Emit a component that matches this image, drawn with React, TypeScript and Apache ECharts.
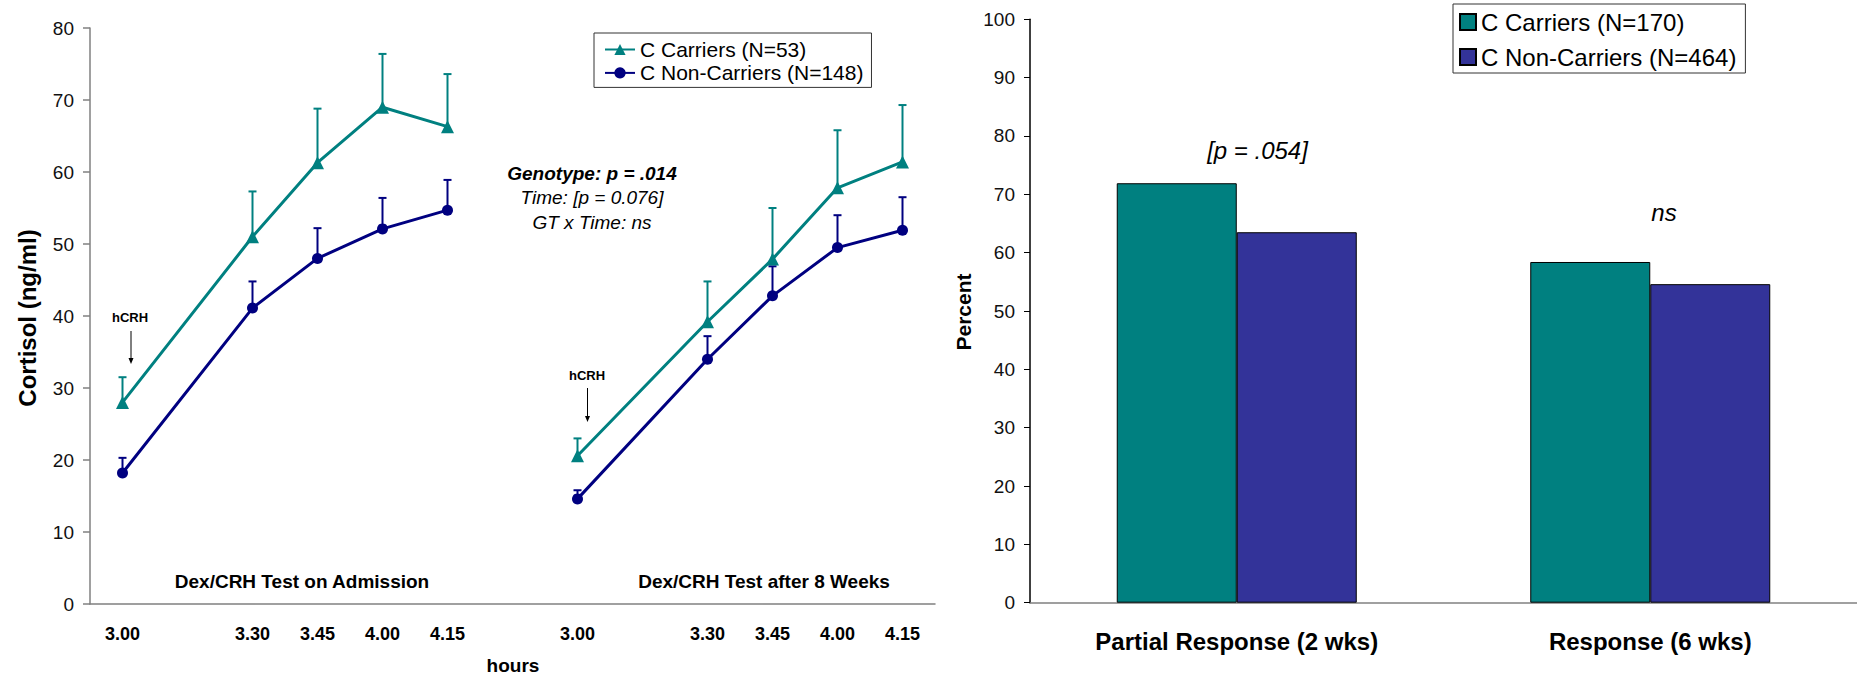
import React, { useEffect, useRef } from "react";
import * as echarts from "echarts";

// ---- Left panel: cortisol during Dex/CRH tests ----
const slotLabels = ["3.00", "", "3.30", "3.45", "4.00", "4.15", "", "3.00", "", "3.30", "3.45", "4.00", "4.15"];
const admissionSlots = [0, 2, 3, 4, 5];
const week8Slots = [7, 9, 10, 11, 12];

const carriersAdmission = [28.0, 51.0, 61.3, 69.0, 66.3];
const carriersAdmissionUpper = [31.5, 57.3, 68.8, 76.4, 73.6];
const nonCarriersAdmission = [18.2, 41.1, 48.0, 52.1, 54.7];
const nonCarriersAdmissionUpper = [20.3, 44.8, 52.2, 56.4, 58.9];

const carriersWeek8 = [20.6, 39.2, 47.9, 57.8, 61.4];
const carriersWeek8Upper = [23.0, 44.8, 55.0, 65.8, 69.3];
const nonCarriersWeek8 = [14.6, 34.0, 42.8, 49.5, 51.9];
const nonCarriersWeek8Upper = [15.8, 37.2, 46.9, 54.0, 56.5];

const lineNames = ["C Carriers (N=53)", "C Non-Carriers (N=148)"];

// ---- Right panel: response rates ----
const responseCategories = ["Partial Response (2 wks)", "Response (6 wks)"];
const carriersPercent = [71.9, 58.4];
const nonCarriersPercent = [63.5, 54.6];
const barNames = ["C Carriers (N=170)", "C Non-Carriers (N=464)"];

const TEAL = "#008080";
const NAVY = "#000080";
const BAR_BLUE = "#333399";
const FONT = "'Liberation Sans', Arial, sans-serif";

const pairs = (slots: number[], vals: number[]) => slots.map((s, i) => [s, vals[i]]);
const triples = (slots: number[], vals: number[], ups: number[]) => slots.map((s, i) => [s, vals[i], ups[i]]);

const makeErr = (color: string) => (params: any, api: any) => {
  const x = api.value(0);
  const p0 = api.coord([x, api.value(1)]);
  const p1 = api.coord([x, api.value(2)]);
  return {
    type: "group",
    children: [
      { type: "line", shape: { x1: p0[0], y1: p0[1], x2: p1[0], y2: p1[1] }, style: { stroke: color, lineWidth: 2 } },
      { type: "line", shape: { x1: p1[0] - 4, y1: p1[1], x2: p1[0] + 4, y2: p1[1] }, style: { stroke: color, lineWidth: 2 } },
    ],
  };
};

const lineSeries = (name: string, data: number[][], color: string, symbol: string, size: number) => ({
  type: "line",
  name,
  xAxisIndex: 0,
  yAxisIndex: 0,
  data,
  symbol,
  symbolSize: size,
  lineStyle: { color, width: 3 },
  itemStyle: { color },
  z: 3,
});

const errSeries = (name: string, data: number[][], color: string) => ({
  type: "custom",
  name,
  xAxisIndex: 0,
  yAxisIndex: 0,
  data,
  encode: { x: 0, y: [1, 2] },
  renderItem: makeErr(color),
  z: 2,
});

const arrow = (x: number, y1: number, y2: number) => [
  { type: "line", shape: { x1: x, y1, x2: x, y2: y2 - 4 }, style: { stroke: "#000", lineWidth: 1 } },
  { type: "polygon", shape: { points: [[x - 2.5, y2 - 6], [x + 2.5, y2 - 6], [x, y2]] }, style: { fill: "#000" } },
];

const txt = (text: string, x: number, y: number, font: any, rotation = 0) => ({
  type: "text",
  x,
  y,
  rotation,
  style: {
    text,
    fill: "#000",
    align: "center",
    verticalAlign: "middle",
    fontFamily: FONT,
    ...font,
  },
});

export default function App() {
  const ref = useRef<HTMLDivElement>(null);
  useEffect(() => {
    if (!ref.current) return;
    const chart = echarts.init(ref.current, null, { renderer: "svg" });
    const option: any = {
      animation: false,
      textStyle: { fontFamily: FONT },
      grid: [
        { left: 90, top: 28, width: 845, height: 576, containLabel: false },
        { left: 1030, top: 19.3, width: 838, height: 583.4, containLabel: false },
      ],
      xAxis: [
        {
          type: "category",
          gridIndex: 0,
          data: slotLabels.map((_, i) => "s" + i),
          boundaryGap: true,
          axisLine: { lineStyle: { color: "#808080", width: 1.5 } },
          axisTick: { length: 6, lineStyle: { color: "#808080", width: 1.5 } },
          axisLabel: {
            interval: 0,
            margin: 21,
            formatter: (_v: string, i: number) => slotLabels[i],
            color: "#000",
            fontWeight: "bold",
            fontSize: 18,
            fontFamily: FONT,
          },
        },
        {
          type: "category",
          gridIndex: 1,
          data: responseCategories,
          axisLine: { lineStyle: { color: "#808080", width: 1.5 } },
          axisTick: { length: 8, lineStyle: { color: "#808080", width: 1 } },
          axisLabel: { interval: 0, margin: 27, color: "#000", fontWeight: "bold", fontSize: 24, fontFamily: FONT },
        },
      ],
      yAxis: [
        {
          type: "value",
          gridIndex: 0,
          min: 0,
          max: 80,
          interval: 10,
          splitLine: { show: false },
          axisLine: { show: true, lineStyle: { color: "#808080", width: 1.5 } },
          axisTick: { show: true, length: 7, lineStyle: { color: "#808080", width: 1.5 } },
          axisLabel: { margin: 16, color: "#111", fontSize: 19, fontFamily: FONT },
        },
        {
          type: "value",
          gridIndex: 1,
          min: 0,
          max: 100,
          interval: 10,
          splitLine: { show: false },
          axisLine: { show: true, lineStyle: { color: "#000", width: 1.5 } },
          axisTick: { show: true, length: 6, lineStyle: { color: "#000", width: 1 } },
          axisLabel: { margin: 15, color: "#111", fontSize: 19, fontFamily: FONT },
        },
      ],
      legend: [
        {
          data: lineNames,
          left: 594,
          top: 33,
          orient: "vertical",
          itemWidth: 30,
          itemHeight: 14,
          itemGap: 2.4,
          padding: [6, 8, 4, 10],
          borderColor: "#333",
          borderWidth: 1,
          textStyle: { fontSize: 21, color: "#000", fontFamily: FONT },
          selectedMode: false,
        },
        {
          data: barNames,
          left: 1453,
          top: 4,
          orient: "vertical",
          icon: "rect",
          itemWidth: 16,
          itemHeight: 16,
          itemGap: 11,
          padding: [6, 9, 4, 6],
          borderColor: "#333",
          borderWidth: 1,
          textStyle: { fontSize: 24, color: "#000", fontFamily: FONT },
          selectedMode: false,
        },
      ],
      series: [
        errSeries("err-c-adm", triples(admissionSlots, carriersAdmission, carriersAdmissionUpper), TEAL),
        errSeries("err-n-adm", triples(admissionSlots, nonCarriersAdmission, nonCarriersAdmissionUpper), NAVY),
        errSeries("err-c-w8", triples(week8Slots, carriersWeek8, carriersWeek8Upper), TEAL),
        errSeries("err-n-w8", triples(week8Slots, nonCarriersWeek8, nonCarriersWeek8Upper), NAVY),
        lineSeries(lineNames[0], pairs(admissionSlots, carriersAdmission), TEAL, "triangle", 13),
        lineSeries(lineNames[1], pairs(admissionSlots, nonCarriersAdmission), NAVY, "circle", 11),
        lineSeries(lineNames[0], pairs(week8Slots, carriersWeek8), TEAL, "triangle", 13),
        lineSeries(lineNames[1], pairs(week8Slots, nonCarriersWeek8), NAVY, "circle", 11),
        {
          type: "bar",
          name: barNames[0],
          xAxisIndex: 1,
          yAxisIndex: 1,
          data: carriersPercent,
          barWidth: 120,
          barGap: "0%",
          itemStyle: { color: TEAL, borderColor: "#000", borderWidth: 1 },
        },
        {
          type: "bar",
          name: barNames[1],
          xAxisIndex: 1,
          yAxisIndex: 1,
          data: nonCarriersPercent,
          barWidth: 120,
          barGap: "0%",
          itemStyle: { color: BAR_BLUE, borderColor: "#000", borderWidth: 1 },
        },
      ],
      graphic: [
        txt("Cortisol (ng/ml)", 27.5, 318, { fontSize: 24, fontWeight: "bold" }, Math.PI / 2),
        txt("Percent", 963, 312, { fontSize: 21, fontWeight: "bold" }, Math.PI / 2),
        txt("Genotype: p = .014", 592, 173, { fontSize: 19, fontWeight: "bold", fontStyle: "italic" }),
        txt("Time: [p = 0.076]", 592, 197, { fontSize: 19, fontStyle: "italic" }),
        txt("GT x Time: ns", 592, 222, { fontSize: 19, fontStyle: "italic" }),
        txt("hCRH", 130, 317, { fontSize: 13, fontWeight: "bold" }),
        txt("hCRH", 587, 375, { fontSize: 13, fontWeight: "bold" }),
        ...arrow(131, 331, 364),
        ...arrow(587.5, 388, 422),
        txt("Dex/CRH Test on Admission", 302, 581, { fontSize: 19, fontWeight: "bold" }),
        txt("Dex/CRH Test after 8 Weeks", 764, 581, { fontSize: 19, fontWeight: "bold" }),
        txt("hours", 513, 665, { fontSize: 19, fontWeight: "bold" }),
        txt("[p = .054]", 1257.5, 150, { fontSize: 24, fontStyle: "italic" }),
        txt("ns", 1664, 212, { fontSize: 24, fontStyle: "italic" }),
      ],
    };
    chart.setOption(option);
    return () => chart.dispose();
  }, []);
  return (
    <div
      ref={ref}
      style={{ position: "absolute", left: 0, top: 0, width: 1857, height: 675, background: "#fff" }}
    />
  );
}
